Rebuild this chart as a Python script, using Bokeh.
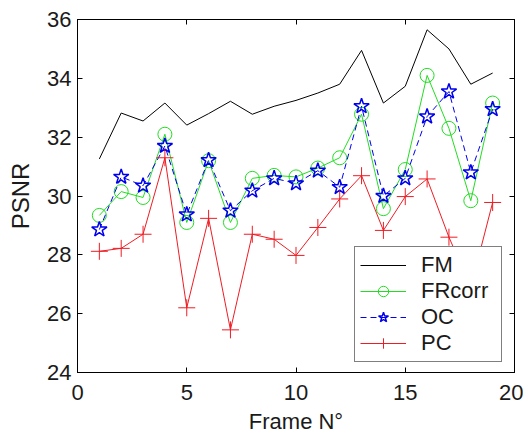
from bokeh.plotting import figure
from bokeh.models import LinearAxis, FixedTicker, Range1d, Legend, LegendItem
from bokeh.embed import file_html
from bokeh.resources import INLINE

frames = list(range(1, 20))
fm = [31.26, 32.82, 32.55, 33.16, 32.41, 32.8, 33.22, 32.78, 33.05, 33.25,
      33.5, 33.8, 34.95, 33.16, 33.73, 35.65, 35.0, 33.8, 34.18]
frcorr = [29.34, 30.15, 29.95, 32.1, 29.1, 31.2, 29.1, 30.6, 30.7, 30.65,
          30.95, 31.3, 32.78, 29.57, 30.9, 34.1, 32.3, 29.84, 33.16]
oc = [28.86, 30.65, 30.35, 31.7, 29.37, 31.22, 29.5, 30.18, 30.6, 30.43,
      30.86, 30.3, 33.05, 30.0, 30.6, 32.7, 33.55, 30.8, 32.95]
pc = [28.12, 28.22, 28.7, 31.3, 26.2, 29.24, 25.45, 28.7, 28.53, 27.98,
      28.93, 29.9, 30.69, 28.83, 29.98, 30.58, 28.6, 26.9, 29.78]

x_ticks = [0, 5, 10, 15, 20]
y_ticks = [24, 26, 28, 30, 32, 34, 36]

FONT = "Liberation Sans"
TXT = "#1a1a1a"

p = figure(frame_width=437, frame_height=353,
           min_border_left=77, min_border_right=9, min_border_top=19, min_border_bottom=55,
           x_range=Range1d(0, 20), y_range=Range1d(24, 36),
           output_backend="svg", toolbar_location=None,
           x_axis_label="Frame N°", y_axis_label="PSNR")
p.xgrid.visible = False
p.ygrid.visible = False
p.outline_line_color = "black"
p.outline_line_width = 1
p.background_fill_color = "white"
p.border_fill_color = "white"

for ax in p.xaxis + p.yaxis:
    ax.major_tick_in = 5
    ax.major_tick_out = 0
    ax.minor_tick_line_color = None
    ax.axis_line_color = "black"
    ax.major_tick_line_color = "black"
    ax.major_label_text_font = FONT
    ax.major_label_text_font_size = "22px"
    ax.major_label_text_color = TXT
    ax.axis_label_text_font = FONT
    ax.axis_label_text_font_size = "22px"
    ax.axis_label_text_font_style = "normal"
    ax.axis_label_text_color = TXT
p.yaxis.axis_label_text_font_size = "24px"
p.xaxis.ticker = FixedTicker(ticks=x_ticks)
p.yaxis.ticker = FixedTicker(ticks=y_ticks)
p.yaxis.major_label_standoff = 6
p.yaxis.axis_label_standoff = 10
p.xaxis.major_label_standoff = 12
p.xaxis.axis_label_standoff = 6

top = LinearAxis(ticker=FixedTicker(ticks=x_ticks), major_tick_in=5, major_tick_out=0,
                 minor_tick_line_color=None, major_label_standoff=0,
                 major_label_overrides={t: "" for t in x_ticks})
right = LinearAxis(ticker=FixedTicker(ticks=y_ticks), major_tick_in=5, major_tick_out=0,
                   minor_tick_line_color=None, major_label_standoff=0,
                   major_label_overrides={t: "" for t in y_ticks})
p.add_layout(top, "above")
p.add_layout(right, "right")

GREEN = "#22dd22"
BLUE = "#0000ee"
RED = "#ee1c24"

r_fm = p.line(frames, fm, line_color="black", line_width=1)
l_fr = p.line(frames, frcorr, line_color=GREEN, line_width=1)
m_fr = p.scatter(frames, frcorr, marker="circle", size=14, fill_color=None,
                 line_color=GREEN, line_width=1)
l_oc = p.line(frames, oc, line_color=BLUE, line_width=1, line_dash="6 4")
m_oc = p.scatter(frames, oc, marker="star", size=16, fill_color=None,
                 line_color=BLUE, line_width=1.5)
l_pc = p.line(frames, pc, line_color=RED, line_width=1)
m_pc = p.scatter(frames, pc, marker="cross", size=17, line_color=RED, line_width=1)

legend = Legend(items=[
    LegendItem(label="FM", renderers=[r_fm]),
    LegendItem(label="FRcorr", renderers=[l_fr, m_fr]),
    LegendItem(label="OC", renderers=[l_oc, m_oc]),
    LegendItem(label="PC", renderers=[l_pc, m_pc]),
], location=(277, 10))
legend.border_line_color = "black"
legend.border_line_width = 1
legend.padding = 5
legend.spacing = 0
legend.margin = 0
legend.label_height = 26
legend.glyph_height = 26
legend.glyph_width = 46
legend.label_width = 75
legend.label_standoff = 15
legend.label_text_font = FONT
legend.label_text_font_size = "22px"
legend.label_text_color = TXT
legend.background_fill_color = "white"
legend.background_fill_alpha = 1
p.add_layout(legend, "center")

open("out.html", "w").write(file_html(p, INLINE))
